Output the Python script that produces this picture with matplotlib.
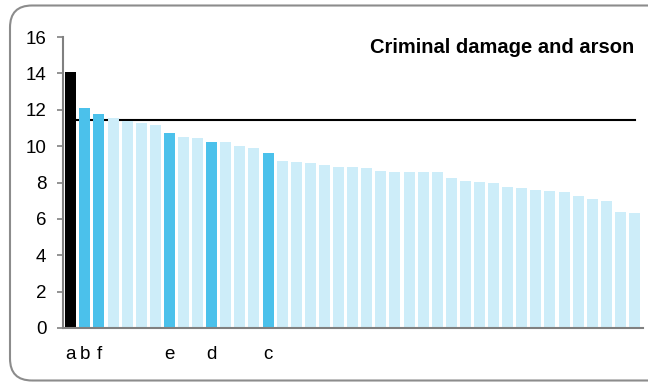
import matplotlib
matplotlib.use("Agg")
import matplotlib.pyplot as plt
import numpy as np
from matplotlib.patches import FancyBboxPatch
from matplotlib.transforms import IdentityTransform

# values, sorted high to low
values = [14.1, 12.08, 11.77, 11.55, 11.38, 11.27, 11.16, 10.74, 10.5, 10.45,
          10.2, 10.2, 10.0, 9.9, 9.6, 9.18, 9.15, 9.05, 8.98, 8.85,
          8.83, 8.8, 8.63, 8.58, 8.57, 8.57, 8.57, 8.26, 8.06, 8.03,
          7.97, 7.75, 7.68, 7.6, 7.51, 7.48, 7.26, 7.11, 6.98, 6.38, 6.3]
highlight_idx = [0, 1, 2, 7, 10, 14]
highlight_labels = ["a", "b", "f", "e", "d", "c"]
average = 11.43
title = "Criminal damage and arson"

plt.rcParams["font.family"] = ["Liberation Sans", "DejaVu Sans"]

light = "#cdedf9"
dark = "#4bc1eb"
colors = [light] * len(values)
for i in highlight_idx[1:]:
    colors[i] = dark
colors[0] = "#000000"

fig = plt.figure(figsize=(6.48, 3.82), dpi=100)
ax = fig.add_axes([63 / 648, 1 - 328 / 382, 580 / 648, 291 / 382])

x = np.arange(len(values))
ax.plot([x[0], x[-1]], [average, average], color="black", lw=1.5, zorder=1)
ax.bar(x, values, width=0.78, color=colors, zorder=2)

ax.set_xlim(-0.55, len(values) - 0.4)
ax.set_ylim(0, 16)
ax.set_yticks(np.arange(0, 17, 2))
ax.set_xticks(highlight_idx)
ax.set_xticklabels(highlight_labels)
ax.tick_params(axis="x", length=0, pad=13, labelsize=13.5)
ax.tick_params(axis="y", length=4, width=1.2, color="#808080", pad=8, labelsize=13.5)

for s in ["top", "right"]:
    ax.spines[s].set_visible(False)
for s in ["left", "bottom"]:
    ax.spines[s].set_color("#808080")
    ax.spines[s].set_linewidth(1.5)

ax.text(0.985, 0.965, title, transform=ax.transAxes, ha="right", va="center",
        fontsize=14.5, fontweight="bold")

border = FancyBboxPatch((10, 1.5), 660, 375, boxstyle="round,pad=0,rounding_size=22",
                        transform=IdentityTransform(), facecolor="none",
                        edgecolor="#8c8c8c", lw=1.5)
fig.patches.append(border)

fig.savefig("out.png", dpi=100)
